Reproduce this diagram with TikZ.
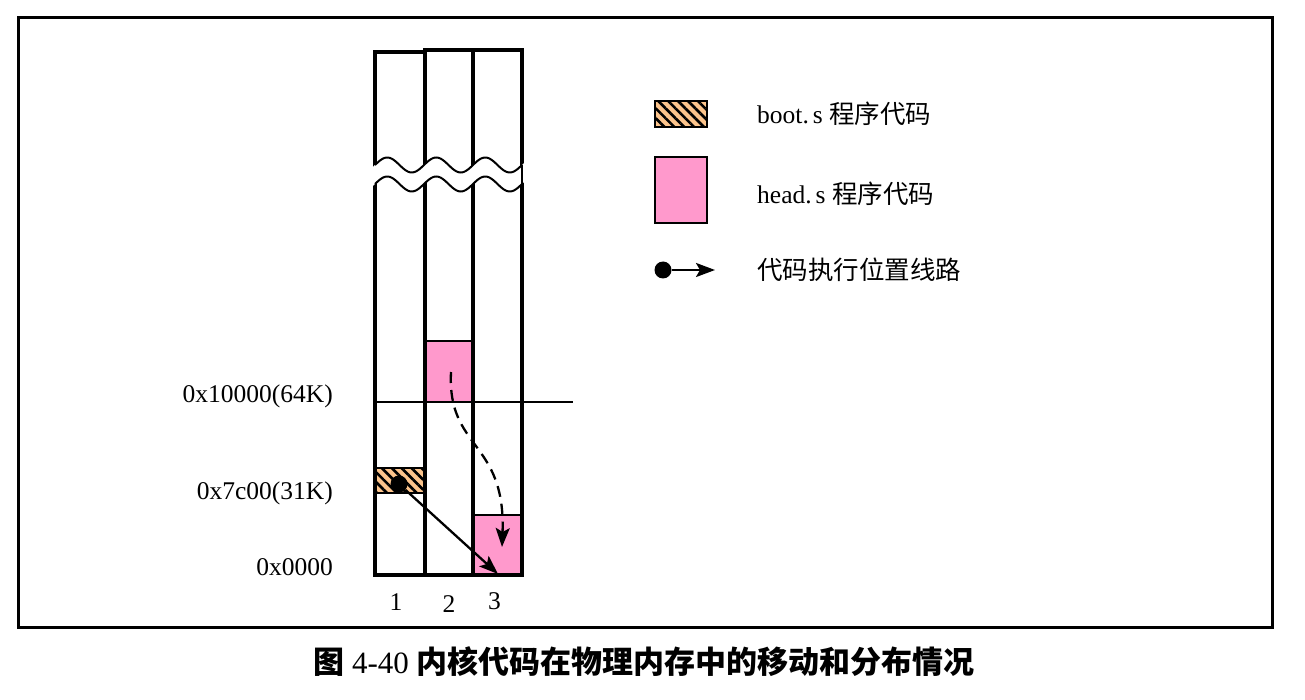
\documentclass[tikz,border=0pt]{standalone}
\usepackage{fontspec}
\setmainfont{Liberation Serif}
\newfontfamily\cjk{Noto Sans CJK SC}
\usetikzlibrary{arrows.meta,calc,patterns.meta}
\definecolor{headpink}{RGB}{255,153,204}
\definecolor{bootpeach}{RGB}{252,196,140}

\begin{document}
\begin{tikzpicture}[
    x=1pt, y=-1pt,
    font=\fontsize{25.5}{30}\selectfont,
    >={Stealth[length=19pt,width=14pt,inset=4pt]},
    memcol/.style={rectangle, draw, line width=3.5pt, inner sep=0pt, outer sep=0pt, minimum height=525pt, anchor=south west},
    headbox/.style={rectangle, draw, line width=2pt, fill=headpink, inner sep=0pt, outer sep=0pt, anchor=north west},
    bootbox/.style={rectangle, draw, line width=2pt, fill=bootpeach, inner sep=0pt, outer sep=0pt, anchor=north west,
        postaction={pattern={Lines[angle=-45,distance=7pt,line width=2.6pt]}, pattern color=black}},
    pcdot/.style={circle, fill=black, inner sep=0pt, minimum size=17pt},
    flow/.style={->, line width=2.3pt},
    lbl/.style={inner sep=0pt}
]
\useasboundingbox (0,0) rectangle (1305,700);

% Outer frame
\draw[line width=3pt] (18,18) rectangle (1272,627);

% Code blocks in memory
\node[bootbox, minimum width=50pt, minimum height=25pt] (boot) at (375,468) {};
\node[headbox, minimum width=48pt, minimum height=61pt] (headold) at (425,341) {};
\node[headbox, minimum width=49pt, minimum height=60pt] (headnew) at (473,515) {};

% 64K boundary
\draw[line width=1.5pt] (375,402) -- (573,402);

% Memory columns (1, 2, 3)
\node[memcol, minimum width=50pt, minimum height=523pt] (col1) at (375,575) {};
\node[memcol, minimum width=48pt] (col2) at (425,575) {};
\node[memcol, minimum width=49pt] (col3) at (473,575) {};

% Break in the columns
\fill[white] plot[domain=372:525, samples=90] (\x,{165-7.5*sin(7.3469*(\x-375))})
    -- plot[domain=525:372, samples=90] (\x,{184-7.5*sin(7.3469*(\x-375))}) -- cycle;
\draw[line width=2pt] plot[domain=375:522, samples=90] (\x,{165-7.5*sin(7.3469*(\x-375))});
\draw[line width=2pt] plot[domain=375:522, samples=90] (\x,{184-7.5*sin(7.3469*(\x-375))});
\draw[line width=1.5pt] (522,165) -- (522,184);

% Address labels
\node[lbl, anchor=east] (a64k) at (333,396) {0x10000(64K)};
\node[lbl, anchor=east] (a31k) at (333,493) {0x7c00(31K)};
\node[lbl, anchor=east] (a0) at (333,567) {0x0000};

% Column numbers
\node (n1) at ($(col1.south)+(-4,27)$) {1};
\node (n2) at ($(col2.south)+(0,29)$) {2};
\node (n3) at ($(col3.south)+(-3,26)$) {3};

% Execution path
\node[pcdot] (pc) at (399,484) {};
\coordinate (jmp) at (498,574);
\draw[flow] (pc) -- (jmp);
\coordinate (movsrc) at (451,372);
\coordinate (movdst) at (502,547);
\draw[flow, dash pattern=on 11pt off 7pt] (movsrc) .. controls (447,450) and (506,440) .. (movdst);

% Legend
\node[bootbox, anchor=center, minimum width=52pt, minimum height=26pt] (lgboot) at (681,114) {};
\node[lbl, anchor=west] (lgboottxt) at (757,114) {boot.\hspace{4pt}s {\cjk 程序代码}};
\node[headbox, anchor=center, minimum width=52pt, minimum height=66pt] (lghead) at (681,190) {};
\node[lbl, anchor=west] (lgheadtxt) at (757,194) {head.\hspace{4pt}s {\cjk 程序代码}};
\node[pcdot] (lgdot) at (663,270) {};
\coordinate (lgtip) at (715,270);
\draw[flow] (lgdot) -- (lgtip);
\node[lbl, anchor=west] (lgflowtxt) at (757,270) {\cjk 代码执行位置线路};

% Caption
\node (caption) at (644,662) {\fontsize{31}{35}\selectfont{\cjk\bfseries 图} 4-40 {\cjk\bfseries 内核代码在物理内存中的移动和分布情况}};

\end{tikzpicture}
\end{document}
